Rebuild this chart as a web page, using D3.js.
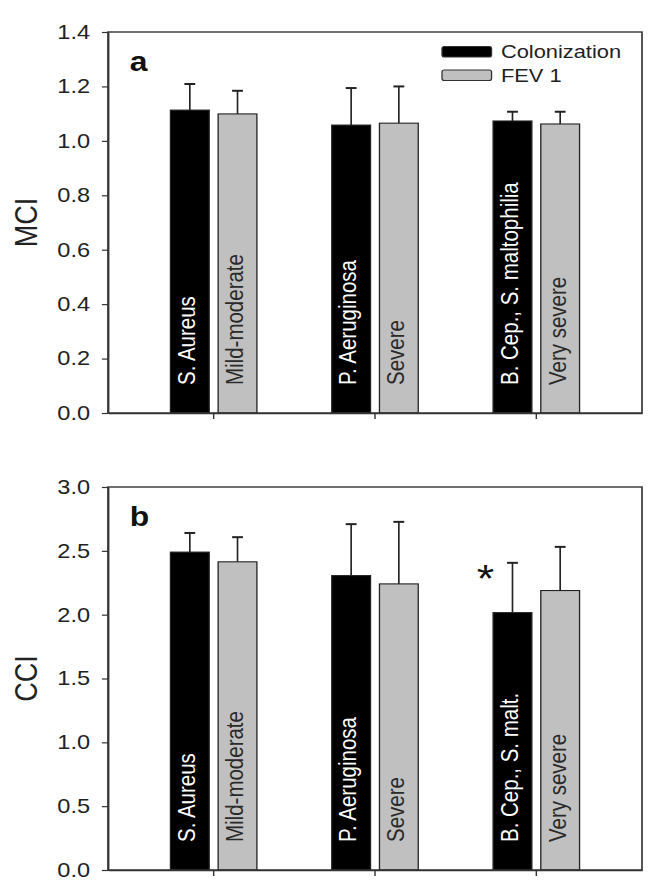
<!DOCTYPE html>
<html>
<head>
<meta charset="utf-8">
<script src="https://cdn.jsdelivr.net/npm/d3@7"></script>
<style>
body { margin: 0; background: #fff; }
svg { display: block; }
text { font-family: Arial, "Liberation Sans", sans-serif; }
</style>
</head>
<body>
<div id="chart"></div>
<script>
// categories
var groups = ["g1", "g2", "g3"];
var series = ["Colonization", "FEV 1"];
var colonizationLabelsA = ["S. Aureus", "P. Aeruginosa", "B. Cep., S. maltophilia"];
var colonizationLabelsB = ["S. Aureus", "P. Aeruginosa", "B. Cep., S. malt."];
var fevLabels = ["Mild-moderate", "Severe", "Very severe"];

// panel a : MCI
var mciColonization    = [1.113, 1.058, 1.073];
var mciColonizationErr = [0.096, 0.136, 0.034];
var mciFev             = [1.099, 1.065, 1.062];
var mciFevErr          = [0.085, 0.135, 0.045];
var mciTicks = [0, 0.2, 0.4, 0.6, 0.8, 1.0, 1.2, 1.4];

// panel b : CCI
var cciColonization    = [2.49, 2.306, 2.016];
var cciColonizationErr = [0.15, 0.403, 0.39];
var cciFev             = [2.414, 2.241, 2.189];
var cciFevErr          = [0.193, 0.486, 0.342];
var cciTicks = [0, 0.5, 1.0, 1.5, 2.0, 2.5, 3.0];
var cciMarks = ["", "", "*"];

var W = 653, H = 895;
var SX = 1.18;               // the original is drawn slightly stretched sideways
var VW = W / SX;
var colors = { "Colonization": "#000000", "FEV 1": "#c0c0c0" };

var svg = d3.select("#chart").append("svg")
	.attr("width", W).attr("height", H)
	.attr("viewBox", "0 0 " + VW + " " + H)
	.attr("preserveAspectRatio", "none");

var left = 108 / SX, right = 642 / SX;
var x0 = d3.scaleBand().domain(groups).range([left, right]).paddingInner(0.464).paddingOuter(0.387);
var x1 = d3.scaleBand().domain(series).range([0, x0.bandwidth()]).paddingInner(0.187);

function drawPanel(p)
{
	var y = d3.scaleLinear().domain([0, p.max]).range([p.bottom, p.top]);
	var g = svg.append("g");

	var rows = [];
	groups.forEach(function(k, i) {
		rows.push({ g: k, s: "Colonization", v: p.col[i], e: p.colErr[i], label: p.colLabels[i], mark: p.marks ? p.marks[i] : "" });
		rows.push({ g: k, s: "FEV 1", v: p.fev[i], e: p.fevErr[i], label: fevLabels[i], mark: "" });
	});

	// error bars (upper only)
	g.selectAll(".err").data(rows).enter().append("line")
		.attr("x1", function(d) { return x0(d.g) + x1(d.s) + x1.bandwidth() / 2; })
		.attr("x2", function(d) { return x0(d.g) + x1(d.s) + x1.bandwidth() / 2; })
		.attr("y1", function(d) { return y(d.v); })
		.attr("y2", function(d) { return y(d.v + d.e); })
		.attr("stroke", "#222").attr("stroke-width", 1.4);
	g.selectAll(".cap").data(rows).enter().append("line")
		.attr("x1", function(d) { return x0(d.g) + x1(d.s) + x1.bandwidth() / 2 - 4.6; })
		.attr("x2", function(d) { return x0(d.g) + x1(d.s) + x1.bandwidth() / 2 + 4.6; })
		.attr("y1", function(d) { return y(d.v + d.e); })
		.attr("y2", function(d) { return y(d.v + d.e); })
		.attr("stroke", "#222").attr("stroke-width", 2);

	g.selectAll(".bar").data(rows).enter().append("rect")
		.attr("x", function(d) { return x0(d.g) + x1(d.s); })
		.attr("y", function(d) { return y(d.v); })
		.attr("width", x1.bandwidth())
		.attr("height", function(d) { return y(0) - y(d.v); })
		.attr("fill", function(d) { return colors[d.s]; })
		.attr("stroke", "#222").attr("stroke-width", 1.1);

	// labels written inside the bars
	g.selectAll(".blabel").data(rows).enter().append("text")
		.attr("transform", function(d) {
			return "translate(" + (x0(d.g) + x1(d.s) + x1.bandwidth() / 2) + "," + (y(0) - 28) + ") rotate(-90)";
		})
		.attr("dy", "0.22em")
		.attr("font-size", 20.5)
		.attr("fill", function(d) { return d.s == "Colonization" ? "#fff" : "#2a2a2a"; })
		.text(function(d) { return d.label; });

	// significance mark
	g.selectAll(".mark").data(rows.filter(function(d) { return d.mark; })).enter().append("text")
		.attr("x", function(d) { return x0(d.g) + x1(d.s) - 6.5; })
		.attr("y", function(d) { return y(d.v + d.e) + 29; })
		.attr("text-anchor", "middle")
		.attr("font-size", 38)
		.attr("fill", "#111")
		.text(function(d) { return d.mark; });

	// frame
	g.append("rect")
		.attr("x", left).attr("y", p.top)
		.attr("width", right - left).attr("height", p.bottom - p.top)
		.attr("fill", "none").attr("stroke", "#333").attr("stroke-width", 1.4);

	var ya = g.append("g").attr("transform", "translate(" + left + ",0)")
		.call(d3.axisLeft(y).tickValues(p.ticks).tickSize(5.2).tickPadding(10).tickSizeOuter(0).tickFormat(d3.format(".1f")));
	ya.select(".domain").attr("stroke", "#333").attr("stroke-width", 1.4);
	ya.selectAll(".tick line").attr("stroke", "#333").attr("stroke-width", 1.2);
	ya.selectAll(".tick text").attr("font-size", 20).attr("fill", "#222").style("font-family", "Arial, 'Liberation Sans', sans-serif");

	var xa = g.append("g").attr("transform", "translate(0," + p.bottom + ")")
		.call(d3.axisBottom(x0).tickSize(6).tickSizeOuter(0).tickFormat(""));
	xa.select(".domain").attr("stroke", "#333").attr("stroke-width", 1.4);
	xa.selectAll(".tick line").attr("stroke", "#333").attr("stroke-width", 1.2);

	g.append("text")
		.attr("transform", "translate(" + (26 / SX) + "," + ((p.top + p.bottom) / 2) + ") rotate(-90)")
		.attr("text-anchor", "middle").attr("dy", "0.36em")
		.attr("font-size", 27).attr("fill", "#222")
		.text(p.title);

	g.append("text")
		.attr("x", left + 18.5).attr("y", p.top + 39)
		.attr("font-size", 27).attr("font-weight", "bold").attr("fill", "#111")
		.text(p.letter);

	if (p.legend) {
		var lg = g.selectAll(".leg").data(series).enter().append("g")
			.attr("transform", function(d, i) { return "translate(" + (442 / SX) + "," + (p.top + 14.5 + i * 23.5) + ")"; });
		lg.append("rect").attr("width", 42).attr("height", 10.5).attr("rx", 2)
			.attr("fill", function(d) { return colors[d]; })
			.attr("stroke", "#333").attr("stroke-width", 1.1);
		lg.append("text").attr("x", 50).attr("y", 11.5)
			.attr("font-size", 18.5).attr("fill", "#222")
			.text(function(d) { return d; });
	}
}

drawPanel({ top: 32, bottom: 413, max: 1.4, ticks: mciTicks, title: "MCI", letter: "a",
	col: mciColonization, colErr: mciColonizationErr, fev: mciFev, fevErr: mciFevErr,
	colLabels: colonizationLabelsA, legend: true });

drawPanel({ top: 487, bottom: 870, max: 3.0, ticks: cciTicks, title: "CCI", letter: "b",
	col: cciColonization, colErr: cciColonizationErr, fev: cciFev, fevErr: cciFevErr,
	colLabels: colonizationLabelsB, marks: cciMarks, legend: false });
</script>
</body>
</html>
